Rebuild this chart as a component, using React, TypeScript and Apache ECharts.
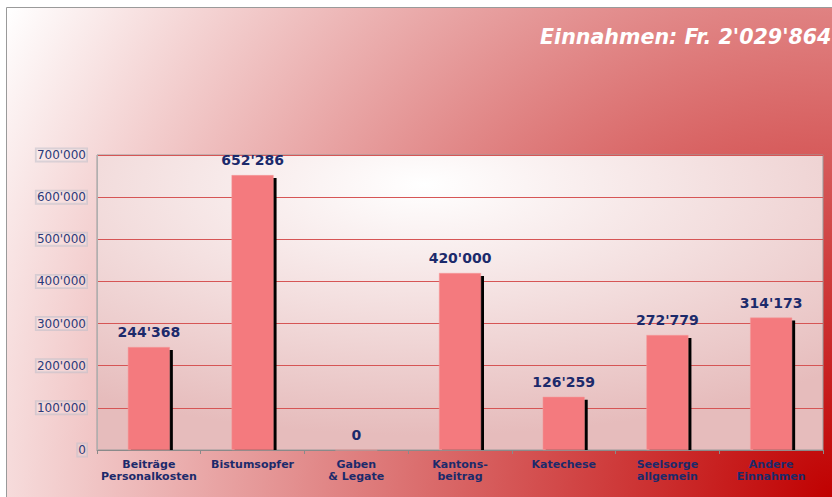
import React, { useEffect, useRef } from "react";
import * as echarts from "echarts";

const categories = [
  "Beiträge\nPersonalkosten",
  "Bistumsopfer",
  "Gaben\n& Legate",
  "Kantons-\nbeitrag",
  "Katechese",
  "Seelsorge\nallgemein",
  "Andere\nEinnahmen",
];
const values = [244368, 652286, 0, 420000, 126259, 272779, 314173];
const titleText = "Einnahmen: Fr. 2'029'864";

const fmt = (v: number) =>
  String(Math.round(v)).replace(/\B(?=(\d{3})+(?!\d))/g, "'");

const navy = "#1c2a6b";
const BAR_W = 42;

export default function App() {
  const ref = useRef<HTMLDivElement>(null);
  useEffect(() => {
    if (!ref.current) return;
    const chart = echarts.init(ref.current, undefined, { renderer: "svg" });
    chart.setOption({
      animation: false,
      graphic: [
        {
          type: "rect",
          z: -10,
          shape: { x: 6.5, y: 7.5, width: 830, height: 500 },
          style: {
            stroke: "#9a9a9a",
            lineWidth: 1,
            fill: new echarts.graphic.RadialGradient(
              834, 499, 960,
              [
                { offset: 0, color: "#c00000" },
                { offset: 0.5, color: "#df7f7f" },
                { offset: 1, color: "#ffffff" },
              ],
              true
            ),
          },
        },
        {
          type: "text",
          x: 540,
          y: 37,
          style: {
            text: titleText,
            font: "italic bold 20.6px 'DejaVu Sans'",
            fill: "#ffffff",
            verticalAlign: "middle",
          },
        },
      ],
      grid: {
        left: 97,
        right: 9,
        top: 155,
        bottom: 47,
        show: true,
        borderColor: "#9a9a9a",
        borderWidth: 1,
        backgroundColor: new echarts.graphic.RadialGradient(0.45, 0.1, 0.85, [
          { offset: 0, color: "#ffffff" },
          { offset: 0.5, color: "#f3dede" },
          { offset: 1, color: "#e6bcbc" },
        ]),
      },
      xAxis: {
        type: "category",
        data: categories,
        axisLine: { lineStyle: { color: "#8a8a8a", width: 1 } },
        axisTick: { show: true, length: 4, lineStyle: { color: "#8a8a8a" } },
        axisLabel: {
          color: navy,
          fontFamily: "DejaVu Sans",
          fontSize: 11,
          fontWeight: "bold",
          lineHeight: 12,
          margin: 8,
          interval: 0,
        },
      },
      yAxis: {
        type: "value",
        min: 0,
        max: 700000,
        interval: 100000,
        axisLine: { show: true, lineStyle: { color: "#b0b0b0", width: 1 } },
        axisTick: { show: false },
        splitLine: { lineStyle: { color: "#d65555", width: 1 } },
        axisLabel: {
          color: "#2a3a7a",
          fontFamily: "DejaVu Sans",
          fontSize: 12,
          margin: 10,
          padding: [1, 1, 0, 1],
          backgroundColor: "rgba(255,255,255,0.12)",
          borderColor: "rgba(190,190,200,0.55)",
          borderWidth: 1,
          formatter: (v: number) => fmt(v),
        },
      },
      series: [
        {
          type: "custom",
          z: 1,
          data: values.map((v, i) => [i, v]),
          renderItem: (params: any, api: any) => {
            const top = api.coord([api.value(0), api.value(1)]);
            const base = api.coord([api.value(0), 0]);
            const h = base[1] - top[1] - 3;
            if (h <= 0) return null;
            return {
              type: "rect",
              shape: { x: top[0] - BAR_W / 2 + 3, y: top[1] + 3, width: BAR_W, height: h },
              style: { fill: "#000000" },
            };
          },
          silent: true,
        },
        {
          type: "bar",
          z: 2,
          data: values,
          barWidth: BAR_W,
          itemStyle: {
            color: "#f47a7e",
            borderColor: "#f29a9a",
            borderWidth: 0.5,
          },
          label: {
            show: true,
            position: "top",
            distance: 8,
            color: navy,
            fontFamily: "DejaVu Sans",
            fontSize: 14,
            fontWeight: "bold",
            formatter: (p: any) => fmt(p.value),
          },
        },
      ],
    });
    return () => chart.dispose();
  }, []);
  return (
    <div
      ref={ref}
      style={{ position: "absolute", left: 0, top: 0, width: 832, height: 497 }}
    />
  );
}
